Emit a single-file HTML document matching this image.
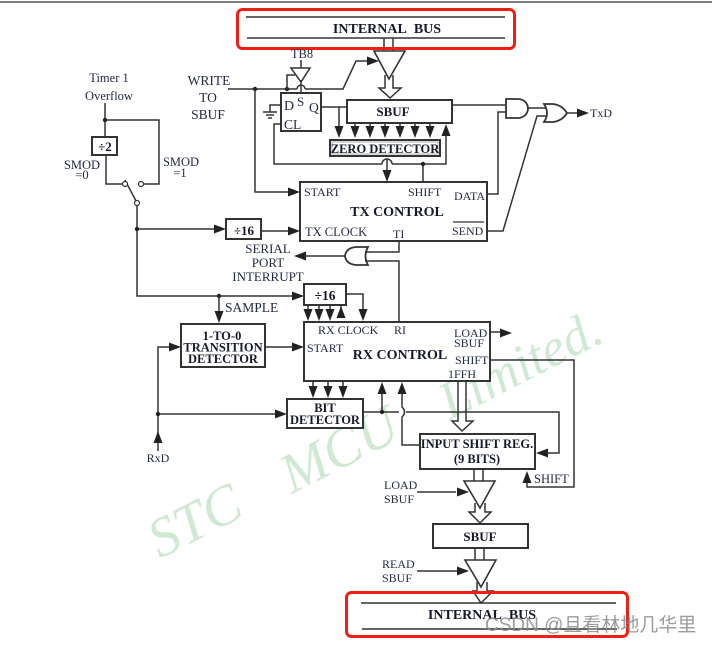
<!DOCTYPE html>
<html><head><meta charset="utf-8"><style>
html,body{margin:0;padding:0;background:#fff;width:712px;height:645px;overflow:hidden}
svg{display:block}
text{font-family:"Liberation Serif",serif;fill:#232a44;font-size:12.5px}
.b{font-weight:bold;font-size:12.5px;fill:#15192b}
.m{text-anchor:middle}
.s{font-size:12px}
.w{font-style:italic;font-size:56px;fill:#cfe9d3;stroke:none}
.l{fill:none;stroke:#333;stroke-width:1.5}
.box{fill:#fff;stroke:#333;stroke-width:2}
.a{fill:#222;stroke:none}
.red{fill:none;stroke:#f01f14;stroke-width:3}
</style></head><body>
<svg width="712" height="645" viewBox="0 0 712 645" xmlns="http://www.w3.org/2000/svg">
<defs>
<polygon id="d" class="a" points="-4.500,-12 4.500,-12 0,0"/>
<polygon id="u" class="a" points="-4.500,12 4.500,12 0,0"/>
<polygon id="r" class="a" points="-12,-4.500 -12,4.500 0,0"/>
<polygon id="lf" class="a" points="12,-4.500 12,4.500 0,0"/>
</defs>
<line x1="0" y1="2" x2="712" y2="2" stroke="#555" stroke-width="1.5"/>
<!-- watermark -->
<text class="w" transform="translate(160,559) rotate(-27)">STC</text>
<text class="w" transform="translate(292,494) rotate(-27)">MCU</text>
<text class="w" transform="translate(450,420) rotate(-27)" style="font-size:53px">Limited.</text>
<!-- top bus -->
<line class="l" x1="246" y1="17" x2="505" y2="17"/>
<line class="l" x1="247" y1="38" x2="505" y2="38"/>
<text class="b m" x="387" y="33" style="font-size:14px">INTERNAL&#160;&#160;BUS</text>
<path class="l" d="M384 38V51M393 38V51"/>
<polygon points="374,51 405,51 389,79" fill="#fff" stroke="#333" stroke-width="1.6"/>
<path class="l" d="M385 75V88H379L390 98L401 88H393V75" fill="#fff"/>
<rect class="red" x="237.500" y="9.500" width="277" height="39" rx="5"/>
<!-- write -->
<text class="m" x="209" y="85" style="font-size:13.500px">WRITE</text>
<text class="m" x="208" y="102" style="font-size:13.500px">TO</text>
<text class="m" x="208" y="119" style="font-size:13.500px">SBUF</text>
<path class="l" d="M228 89H297M305 89H343L356 61H370"/>
<path class="l" d="M297 89A4 4 0 0 1 305 89"/>
<use href="#r" x="379" y="61"/>
<circle cx="255" cy="89" r="2.200" fill="#222"/><circle cx="287" cy="89" r="2.200" fill="#222"/>
<path class="l" d="M255 89V192H289"/><use href="#r" x="300" y="192"/>
<path class="l" d="M287 89V75H295"/>
<polygon points="291,68 310,68 301,82" fill="#fff" stroke="#333" stroke-width="1.500"/>
<path class="l" d="M301 60V68M301 80V93"/>
<text class="m" x="302" y="58">TB8</text>
<rect class="box" x="281" y="93" width="40" height="38"/>
<text x="284" y="110" style="font-size:14px">D</text>
<text x="297" y="106" style="font-size:13px">S</text>
<text x="309" y="112" style="font-size:13.500px">Q</text>
<text x="284" y="129" style="font-size:13.500px">CL</text>
<path class="l" d="M281 105H270V112M263 112H277M266 115H274M268 118H272"/>
<path class="l" d="M321 107H347M339 107V127"/><use href="#d" x="339" y="138"/>
<rect class="box" x="347" y="100" width="105" height="23"/>
<text class="b m" x="393" y="116" style="font-size:13px">SBUF</text>
<path class="l" d="M355 123V130M370 123V130M385 123V130M400 123V130M415 123V130M430 123V130"/>
<use href="#d" x="355" y="138"/><use href="#d" x="370" y="138"/><use href="#d" x="385" y="138"/><use href="#d" x="400" y="138"/><use href="#d" x="415" y="138"/><use href="#d" x="430" y="138"/>
<use href="#u" x="446" y="124"/>
<rect x="330" y="140" width="110" height="16" fill="#fff" stroke="#333" stroke-width="2"/>
<rect x="332" y="142" width="106" height="12" fill="none" stroke="#999" stroke-width="0.800"/>
<text class="b m" x="385" y="153" style="font-size:12.500px">ZERO DETECTOR</text>
<path class="l" d="M281 124H274V164H382M392 164H446V135"/>
<path class="l" d="M382 164A5 5 0 0 1 392 164"/>
<path class="l" d="M387 159V172"/><use href="#d" x="387" y="182"/>
<path class="l" d="M423 164V182"/><circle cx="423" cy="164" r="2.200" fill="#222"/>
<!-- Tx Control -->
<rect class="box" x="300" y="182" width="187" height="59"/>
<text class="s" x="304" y="196">START</text>
<text class="s" x="408" y="196">SHIFT</text>
<text class="s" x="454" y="200">DATA</text>
<text class="b m" x="397" y="216" style="font-size:14px">TX CONTROL</text>
<text x="305" y="236">TX CLOCK</text>
<text class="s" x="393" y="238">TI</text>
<text class="s" x="452" y="235">SEND</text>
<line x1="453" y1="222" x2="484" y2="222" stroke="#333" stroke-width="1.200"/>
<!-- outputs -->
<path class="l" d="M452 105H506M487 194H498V112H506"/>
<path d="M506 99H518A10 9.500 0 0 1 518 118H506Z" fill="#fff" stroke="#333" stroke-width="1.800"/>
<path class="l" d="M528 108H546M487 231H503L537 116H546"/>
<path d="M544 104H553Q562 105 567 113Q562 121 553 122H544Q550 113 544 104Z" fill="#fff" stroke="#333" stroke-width="1.800"/>
<path class="l" d="M567 113H578"/><use href="#r" x="589" y="113"/>
<text class="s" x="590" y="117">TxD</text>
<!-- left clock -->
<text class="m" x="109" y="82">Timer 1</text>
<text class="m" x="109" y="100">Overflow</text>
<path class="l" d="M105 103V137M105 120H159V184H144M106 155V184H122"/>
<circle cx="105" cy="120" r="2.200" fill="#222"/>
<rect class="box" x="92" y="137" width="25" height="18"/>
<text class="b m" x="105" y="151" style="font-size:13px">÷2</text>
<text class="m" x="82" y="169">SMOD</text><text class="m" x="82" y="179">=0</text>
<text class="m" x="181" y="166">SMOD</text><text class="m" x="180" y="177">=1</text>
<path class="l" d="M125 180L136 201"/>
<circle cx="125" cy="184" r="2.500" fill="#fff" stroke="#333" stroke-width="1.200"/>
<circle cx="141" cy="184" r="2.500" fill="#fff" stroke="#333" stroke-width="1.200"/>
<circle cx="137" cy="203" r="2.500" fill="#fff" stroke="#333" stroke-width="1.200"/>
<path class="l" d="M137 206V296H293"/><use href="#r" x="304" y="296"/>
<path class="l" d="M137 229H215"/><use href="#r" x="226" y="229"/>
<circle cx="137" cy="229" r="2.200" fill="#222"/>
<rect class="box" x="226" y="219" width="35" height="20"/>
<text class="b m" x="244" y="235" style="font-size:13px">÷16</text>
<path class="l" d="M261 231H289"/><use href="#r" x="300" y="231"/>
<!-- interrupt -->
<text class="m" x="268" y="253" style="font-size:13px">SERIAL</text><text class="m" x="268" y="267" style="font-size:13px">PORT</text><text class="m" x="268" y="281" style="font-size:13px">INTERRUPT</text>
<path class="l" d="M306 256H345"/><use href="#lf" x="294" y="256"/>
<path d="M368 247H356Q346 248 345 256Q346 264 356 265H368Q363 256 368 247Z" fill="#fff" stroke="#333" stroke-width="1.800"/>
<path class="l" d="M365 252H399V241M365 261H399V322"/>
<circle cx="219" cy="296" r="2.200" fill="#222"/>
<path class="l" d="M219 296V312"/><use href="#d" x="219" y="323"/>
<text x="225" y="312" style="font-size:13.500px">SAMPLE</text>
<rect class="box" x="304" y="284" width="42" height="21"/>
<text class="b m" x="325" y="300" style="font-size:13.500px">÷16</text>
<path class="l" d="M346 294H363V310M308 305V310M319 305V310M330 305V310M341 317V306"/>
<use href="#d" x="363" y="321"/><use href="#d" x="308" y="321"/><use href="#d" x="319" y="321"/><use href="#d" x="330" y="321"/><use href="#u" x="341" y="306"/>
<!-- 1-to-0 -->
<rect class="box" x="181" y="324" width="84" height="43"/>
<text class="b m" x="222" y="340" style="font-size:12.500px">1-TO-0</text>
<text class="b m" x="223" y="351.500" style="font-size:12.500px">TRANSITION</text>
<text class="b m" x="223" y="363" style="font-size:12.500px">DETECTOR</text>
<path class="l" d="M265 347H293"/><use href="#r" x="304" y="347"/>
<path class="l" d="M158 442V347H170"/><use href="#r" x="181" y="347"/>
<use href="#u" x="158" y="431"/><path class="l" d="M158 443V451"/>
<path class="l" d="M158 414H276"/><use href="#r" x="287" y="414"/>
<circle cx="158" cy="414" r="2.200" fill="#222"/>
<text class="m s" x="158" y="462">RxD</text>
<!-- RX control -->
<rect class="box" x="304" y="322" width="186" height="59"/>
<text class="s" x="318" y="334">RX CLOCK</text>
<text class="s" x="394" y="334">RI</text>
<text class="s" x="307" y="352">START</text>
<text class="b m" x="400" y="359" style="font-size:14px">RX CONTROL</text>
<text class="s" x="454" y="337">LOAD</text>
<text class="s" x="454" y="347">SBUF</text>
<text class="s" x="455" y="364">SHIFT</text>
<text class="s" x="448" y="378">1FFH</text>
<path class="l" d="M490 332H501"/><use href="#r" x="512" y="333"/>
<path class="l" d="M490 360H574V487H527V482"/><use href="#u" x="527" y="471"/>
<text x="534" y="483">SHIFT</text>
<path class="l" d="M313 381V388M328 381V388M343 381V388"/>
<use href="#d" x="313" y="398"/><use href="#d" x="328" y="398"/><use href="#d" x="343" y="398"/>
<rect class="box" x="287" y="399" width="76" height="29"/>
<text class="b m" x="325" y="412" style="font-size:12.500px">BIT</text>
<text class="b m" x="325" y="424" style="font-size:12.500px">DETECTOR</text>
<path class="l" d="M363 412H399M406 412H559V453H548"/>
<use href="#lf" x="536" y="453"/>
<path class="l" d="M382 412V393"/><use href="#u" x="382" y="382"/><circle cx="382" cy="412" r="2.200" fill="#222"/>
<path class="l" d="M402 393V407Q407 412 402 417V445H420"/><use href="#u" x="402" y="382"/>
<path class="l" d="M458 381V421H452L462 431L473 421H466V381"/>
<rect class="box" x="420" y="434" width="115" height="35"/>
<text class="b m" x="477" y="448" style="font-size:12.500px">INPUT SHIFT REG.</text>
<text class="b m" x="477" y="463" style="font-size:12.500px">(9 BITS)</text>
<!-- lower path -->
<path class="l" d="M474 469V481M483 469V481"/>
<polygon points="464,481 495,481 480,508" fill="#fff" stroke="#333" stroke-width="1.600"/>
<path class="l" d="M475 503V512H469L480 523L491 512H485V503" fill="#fff"/>
<text class="s" x="384" y="489">LOAD</text><text class="s" x="384" y="503">SBUF</text>
<path class="l" d="M417 492H456"/><use href="#r" x="469" y="492"/>
<rect class="box" x="433" y="524" width="95" height="24"/>
<text class="b m" x="480" y="541" style="font-size:13px">SBUF</text>
<path class="l" d="M475 548V560M484 548V560"/>
<polygon points="465,560 496,560 481,587" fill="#fff" stroke="#333" stroke-width="1.600"/>
<path class="l" d="M477 582V591H473L481 603L493 591H487V582" fill="#fff"/>
<text class="s" x="382" y="568">READ</text><text class="s" x="382" y="582">SBUF</text>
<path class="l" d="M417 571H458"/><use href="#r" x="469" y="571"/>
<!-- bottom bus -->
<line class="l" x1="361" y1="603" x2="616" y2="603"/>
<line class="l" x1="362" y1="629" x2="617" y2="629"/>
<text class="b m" x="482" y="619" style="font-size:14px">INTERNAL&#160;&#160;BUS</text>
<rect class="red" x="346.500" y="592.500" width="281" height="44" rx="5"/>
<text x="485" y="631" style="font-family:'Liberation Sans','Noto Sans CJK SC',sans-serif;font-size:19px;fill:#8a8a8a;fill-opacity:.85">CSDN @且看林地几华里</text>
</svg>
</body></html>
